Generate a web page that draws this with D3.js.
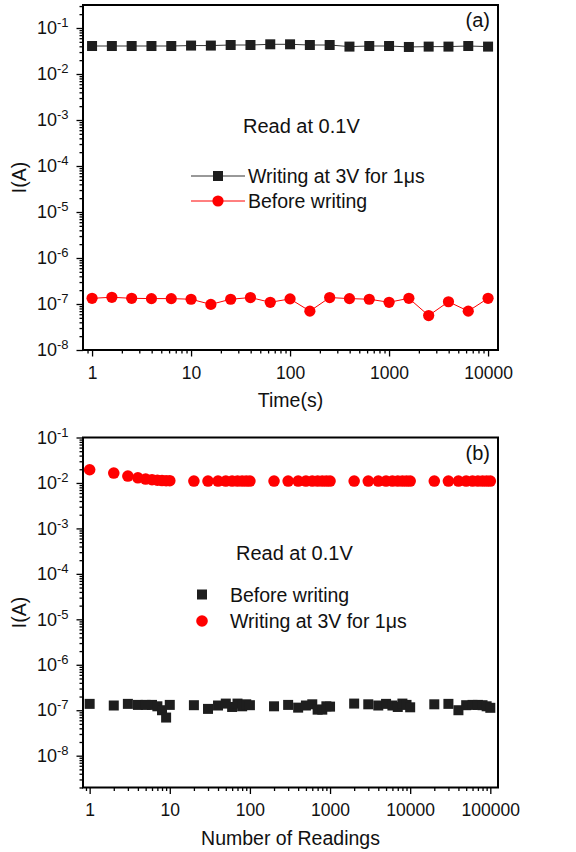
<!DOCTYPE html>
<html>
<head>
<meta charset="utf-8">
<script src="https://d3js.org/d3.v7.min.js"></script>
<style>
  body { margin: 0; background: #fff; }
  svg { display: block; font-family: "Liberation Sans", Arial, sans-serif; }
</style>
</head>
<body>
<svg id="chart" width="576" height="852"></svg>
<script>
// panel (a): current vs retention time
const timeA = [1, 1.585, 2.512, 3.981, 6.31, 10, 15.85, 25.12, 39.81, 63.1, 100,
  158.5, 251.2, 398.1, 631, 1000, 1585, 2512, 3981, 6310, 10000];
const writeA = [0.0406, 0.0406, 0.0406, 0.0406, 0.0406, 0.0415, 0.0415, 0.0427, 0.0427, 0.0442, 0.0442,
  0.0427, 0.0427, 0.0394, 0.0406, 0.0406, 0.0387, 0.0394, 0.0394, 0.0406, 0.0394];
const beforeA = [1.33e-7, 1.40e-7, 1.33e-7, 1.31e-7, 1.31e-7, 1.27e-7, 0.98e-7, 1.27e-7, 1.38e-7, 1.09e-7, 1.29e-7,
  0.70e-7, 1.38e-7, 1.31e-7, 1.27e-7, 1.09e-7, 1.33e-7, 0.56e-7, 1.12e-7, 0.70e-7, 1.33e-7];

// panel (b): current vs number of readings
const readsB = [1, 2, 3, 4, 5, 6, 7, 8, 9, 10,
  20, 30, 40, 50, 60, 70, 80, 90, 100,
  200, 300, 400, 500, 600, 700, 800, 900, 1000,
  2000, 3000, 4000, 5000, 6000, 7000, 8000, 9000, 10000,
  20000, 30000, 40000, 50000, 60000, 70000, 80000, 90000, 100000];
const beforeB = [1.38e-7, 1.27e-7, 1.38e-7, 1.31e-7, 1.31e-7, 1.31e-7, 1.22e-7, 1.0e-7, 0.69e-7, 1.31e-7,
  1.29e-7, 1.07e-7, 1.27e-7, 1.40e-7, 1.18e-7, 1.40e-7, 1.22e-7, 1.35e-7, 1.29e-7,
  1.22e-7, 1.31e-7, 1.14e-7, 1.27e-7, 1.35e-7, 1.03e-7, 1.03e-7, 1.22e-7, 1.20e-7,
  1.40e-7, 1.35e-7, 1.27e-7, 1.38e-7, 1.27e-7, 1.18e-7, 1.40e-7, 1.31e-7, 1.16e-7,
  1.35e-7, 1.38e-7, 1.0e-7, 1.29e-7, 1.31e-7, 1.31e-7, 1.29e-7, 1.22e-7, 1.13e-7];
const writeB = [1.95e-2, 1.65e-2, 1.42e-2, 1.30e-2, 1.22e-2, 1.18e-2, 1.15e-2, 1.13e-2, 1.12e-2, 1.12e-2,
  1.1e-2, 1.1e-2, 1.1e-2, 1.1e-2, 1.1e-2, 1.1e-2, 1.1e-2, 1.1e-2, 1.1e-2,
  1.1e-2, 1.1e-2, 1.1e-2, 1.1e-2, 1.1e-2, 1.1e-2, 1.1e-2, 1.1e-2, 1.1e-2,
  1.1e-2, 1.1e-2, 1.1e-2, 1.1e-2, 1.1e-2, 1.1e-2, 1.1e-2, 1.1e-2, 1.1e-2,
  1.1e-2, 1.1e-2, 1.1e-2, 1.1e-2, 1.1e-2, 1.1e-2, 1.1e-2, 1.1e-2, 1.1e-2];

const xTicksA = [1, 10, 100, 1000, 10000];
const xTicksB = [1, 10, 100, 1000, 10000, 100000];
const yTicks = [1e-8, 1e-7, 1e-6, 1e-5, 1e-4, 1e-3, 1e-2, 1e-1];

const BLACK = "#1e1e1e", RED = "#ff0000", TXT = "#111";
const svg = d3.select("#chart");

function panel(o) {
  const g = svg.append("g").attr("transform", `translate(${o.left},${o.top})`);
  const x = d3.scaleLog().domain(o.xDomain).range([0, o.w]);
  const y = d3.scaleLog().domain(o.yDomain).range([o.h, 0]);

  const isMajor = v => Math.abs(Math.log10(v) - Math.round(Math.log10(v))) < 1e-6;
  const xMinor = x.ticks().filter(v => !isMajor(v));
  const yMinor = y.ticks().filter(v => !isMajor(v));

  // minor ticks
  g.append("g").attr("transform", `translate(0,${o.h})`)
    .call(d3.axisBottom(x).tickValues(xMinor).tickSize(3.5).tickFormat(""))
    .call(s => s.select(".domain").remove());
  g.append("g")
    .call(d3.axisLeft(y).tickValues(yMinor).tickSize(3.5).tickFormat(""))
    .call(s => s.select(".domain").remove());

  // major ticks + labels
  g.append("g").attr("transform", `translate(0,${o.h})`)
    .call(d3.axisBottom(x).tickValues(o.xTicks).tickSize(6.5).tickPadding(10).tickFormat(d3.format("d")))
    .call(s => s.select(".domain").remove())
    .call(s => s.selectAll("text").attr("font-size", 17.5).attr("fill", TXT).attr("font-family", null));
  const ya = g.append("g")
    .call(d3.axisLeft(y).tickValues(yTicks.filter(v => v >= o.yDomain[0] && v <= o.yDomain[1]))
      .tickSize(6.5).tickPadding(8).tickFormat(""))
    .call(s => s.select(".domain").remove());
  ya.selectAll(".tick text")
    .attr("font-size", 18).attr("fill", TXT).attr("font-family", null)
    .each(function(d) {
      const t = d3.select(this).text("10");
      t.append("tspan").attr("font-size", 13).attr("dy", -7).text(String(Math.round(Math.log10(d))));
    });
  g.selectAll(".tick line").attr("stroke", "#000").attr("stroke-width", 1.3);

  // frame
  g.append("rect").attr("width", o.w).attr("height", o.h)
    .attr("fill", "none").attr("stroke", "#000").attr("stroke-width", 2);

  // titles
  g.append("text").attr("x", o.w / 2).attr("y", o.h + 57).attr("text-anchor", "middle")
    .attr("font-size", 19.5).attr("fill", TXT).text(o.xTitle);
  g.append("text").attr("transform", `translate(${-57},${o.h / 2}) rotate(-90)`)
    .attr("text-anchor", "middle").attr("font-size", 19.5).attr("fill", TXT).text("I(A)");
  g.append("text").attr("x", o.w - 8).attr("y", 22).attr("text-anchor", "end")
    .attr("font-size", 20).attr("fill", TXT).text(o.tag);
  return { g, x, y };
}

// ---- panel (a)
const A = panel({ left: 83, top: 5, w: 415, h: 345,
  xDomain: [0.81, 12600], yDomain: [1e-8, Math.pow(10, -0.5)],
  xTicks: xTicksA, xTitle: "Time(s)", tag: "(a)" });

const lineA = (ys) => d3.line().x((d, i) => A.x(timeA[i])).y((d) => A.y(d))(ys);
A.g.append("path").attr("d", lineA(writeA)).attr("fill", "none").attr("stroke", "#333").attr("stroke-width", 1);
A.g.append("path").attr("d", lineA(beforeA)).attr("fill", "none").attr("stroke", RED).attr("stroke-width", 1);
A.g.selectAll(".sqA").data(writeA).join("rect")
  .attr("x", (d, i) => A.x(timeA[i]) - 5).attr("y", d => A.y(d) - 5)
  .attr("width", 10).attr("height", 10).attr("fill", BLACK);
A.g.selectAll(".ciA").data(beforeA).join("circle")
  .attr("cx", (d, i) => A.x(timeA[i])).attr("cy", d => A.y(d)).attr("r", 5.6).attr("fill", RED);

A.g.append("text").attr("x", 160).attr("y", 128).attr("font-size", 20).attr("fill", TXT).text("Read at 0.1V");
const legA = [
  { label: "Writing at 3V for 1\u03bcs", color: "#333", fill: BLACK, shape: "sq" },
  { label: "Before writing", color: RED, fill: RED, shape: "ci" }
];
legA.forEach((l, i) => {
  const ly = 171 + i * 25;
  A.g.append("line").attr("x1", 108).attr("x2", 162).attr("y1", ly).attr("y2", ly)
    .attr("stroke", l.color).attr("stroke-width", 1);
  if (l.shape === "sq") A.g.append("rect").attr("x", 130).attr("y", ly - 5).attr("width", 10).attr("height", 10).attr("fill", l.fill);
  else A.g.append("circle").attr("cx", 135).attr("cy", ly).attr("r", 5.6).attr("fill", l.fill);
  A.g.append("text").attr("x", 165).attr("y", ly + 7).attr("font-size", 19.5).attr("fill", TXT).text(l.label);
});

// ---- panel (b)
const B = panel({ left: 83, top: 437.5, w: 415, h: 350,
  xDomain: [Math.pow(10, -0.083), Math.pow(10, 5.096)], yDomain: [Math.pow(10, -8.7), 1e-1],
  xTicks: xTicksB, xTitle: "Number of Readings", tag: "(b)" });

B.g.selectAll(".sqB").data(beforeB).join("rect")
  .attr("x", (d, i) => B.x(readsB[i]) - 5).attr("y", d => B.y(d) - 5)
  .attr("width", 10).attr("height", 10).attr("fill", BLACK);
B.g.selectAll(".ciB").data(writeB).join("circle")
  .attr("cx", (d, i) => B.x(readsB[i])).attr("cy", d => B.y(d)).attr("r", 5.8).attr("fill", RED);

B.g.append("text").attr("x", 153).attr("y", 122).attr("font-size", 20).attr("fill", TXT).text("Read at 0.1V");
const legB = [
  { label: "Before writing", fill: BLACK, shape: "sq" },
  { label: "Writing at 3V for 1\u03bcs", fill: RED, shape: "ci" }
];
legB.forEach((l, i) => {
  const ly = 157 + i * 26.5;
  if (l.shape === "sq") B.g.append("rect").attr("x", 114).attr("y", ly - 5).attr("width", 10).attr("height", 10).attr("fill", l.fill);
  else B.g.append("circle").attr("cx", 119).attr("cy", ly).attr("r", 5.8).attr("fill", l.fill);
  B.g.append("text").attr("x", 147).attr("y", ly + 7).attr("font-size", 19.5).attr("fill", TXT).text(l.label);
});
</script>
</body>
</html>
